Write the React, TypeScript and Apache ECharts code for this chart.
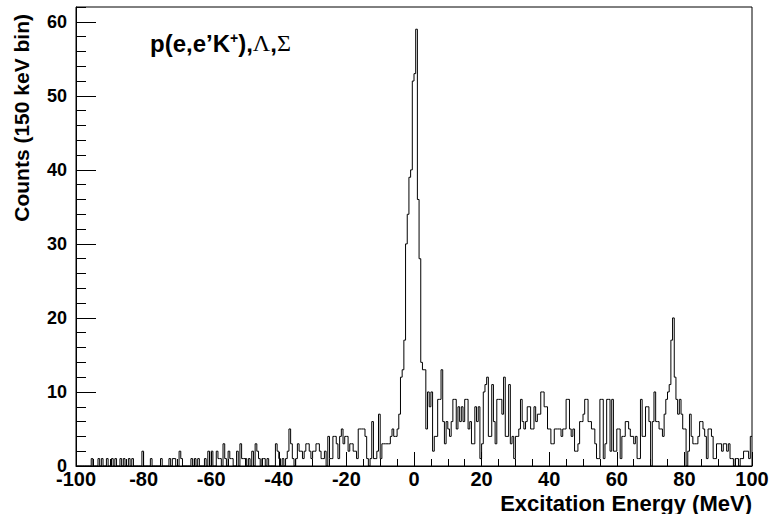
import React, { useEffect, useRef } from "react";
import * as echarts from "echarts";

// Histogram: 0.5 MeV bins from -100 to 100 MeV
const BIN_WIDTH = 0.5;
const X_START = -100;

const countsNeg100ToNeg50 = [
  0, 0, 0, 0, 0, 0, 0, 0, 0, 1, 0, 0, 0, 1, 0, 1, 0, 0, 1, 0,
  0, 1, 0, 1, 0, 0, 1, 0, 1, 0, 0, 1, 0, 1, 0, 0, 0, 0, 0, 2,
  0, 0, 0, 0, 1, 0, 0, 0, 0, 0, 1, 0, 0, 0, 0, 1, 0, 1, 1, 0,
  0, 2, 1, 0, 0, 0, 0, 0, 1, 0, 1, 0, 1, 0, 0, 0, 1, 0, 2, 0,
  2, 0, 0, 2, 1, 1, 0, 3, 1, 0, 2, 1, 1, 0, 0, 2, 0, 3, 1, 1,
];
const countsNeg50To0 = [
  1, 0, 1, 0, 2, 0, 3, 2, 1, 0, 1, 1, 0, 1, 0, 0, 0, 0, 3, 2,
  1, 0, 1, 0, 1, 2, 5, 3, 1, 0, 1, 3, 2, 2, 1, 2, 3, 3, 2, 1,
  2, 2, 3, 3, 2, 1, 1, 2, 0, 4, 1, 1, 4, 4, 3, 1, 4, 5, 3, 4,
  4, 2, 3, 3, 2, 2, 1, 5, 5, 5, 5, 4, 1, 0, 1, 6, 1, 1, 2, 7,
  1, 3, 3, 3, 3, 3, 4, 5, 4, 4, 5, 7, 12, 13, 17, 30, 34, 39, 40, 52,
];
const counts0To50 = [
  53, 59, 36, 28, 14, 13, 13, 5, 10, 8, 10, 2, 4, 4, 9, 9, 13, 6, 3, 6,
  5, 4, 6, 9, 9, 5, 8, 6, 8, 6, 9, 9, 5, 6, 3, 3, 8, 6, 8, 1,
  3, 10, 11, 12, 4, 4, 11, 6, 3, 9, 9, 9, 7, 12, 4, 4, 11, 3, 4, 1,
  4, 4, 5, 9, 6, 5, 6, 8, 8, 5, 5, 8, 6, 7, 7, 10, 10, 8, 8, 5,
  5, 3, 3, 5, 5, 5, 5, 4, 5, 5, 9, 9, 5, 4, 5, 2, 2, 3, 6, 6,
];
const counts50To100 = [
  7, 9, 9, 6, 6, 5, 5, 3, 1, 1, 9, 9, 1, 3, 9, 9, 2, 9, 2, 2,
  5, 5, 1, 4, 4, 6, 6, 5, 4, 4, 3, 4, 1, 1, 9, 4, 4, 8, 8, 6,
  0, 6, 10, 6, 6, 5, 5, 4, 7, 9, 10, 11, 17, 20, 12, 9, 7, 9, 7, 5,
  5, 0, 2, 7, 4, 3, 3, 3, 4, 6, 6, 5, 4, 1, 5, 5, 4, 1, 1, 3,
  3, 3, 2, 3, 3, 2, 3, 1, 1, 0, 1, 1, 0, 1, 1, 2, 2, 2, 1, 4,
];

const X_MIN = -100;
const X_MAX = 100;
const X_INTERVAL = 20;
const Y_MIN = 0;
const Y_MAX = 62;
const Y_INTERVAL = 10;

const SANS = '"Liberation Sans", Arial, Helvetica, sans-serif';
const SERIF = '"Liberation Serif", "Times New Roman", serif';

export default function App() {
  const ref = useRef<HTMLDivElement>(null);

  useEffect(() => {
    if (!ref.current) return;
    const chart = echarts.init(ref.current, null, { renderer: "svg" });
    const counts = [
      ...countsNeg100ToNeg50,
      ...countsNeg50To0,
      ...counts0To50,
      ...counts50To100,
    ];
    const data: number[][] = counts.map((c, i) => [X_START + i * BIN_WIDTH, c]);
    data.push([X_START + counts.length * BIN_WIDTH, counts[counts.length - 1]]);

    chart.setOption({
      animation: false,
      backgroundColor: "#fff",
      grid: {
        left: 76,
        right: 19,
        top: 7,
        bottom: 48,
        show: true,
        borderColor: "#000",
        borderWidth: 1,
        backgroundColor: "transparent",
        outerBoundsMode: "none",
      },
      xAxis: {
        type: "value",
        min: X_MIN,
        max: X_MAX,
        interval: X_INTERVAL,
        axisLine: { onZero: false, lineStyle: { color: "#000", width: 1 } },
        axisTick: { inside: true, length: 14, lineStyle: { color: "#000", width: 1 } },
        minorTick: { show: true, splitNumber: 4, length: 7, lineStyle: { color: "#000", width: 1 } },
        splitLine: { show: false },
        axisLabel: {
          color: "#000",
          fontFamily: SANS,
          fontWeight: "bold",
          fontSize: 20,
          margin: 3,
        },
      },
      yAxis: [
        {
          type: "value",
          min: Y_MIN,
          max: Y_MAX,
          interval: Y_INTERVAL,
          position: "left",
          axisLine: { show: true, onZero: false, lineStyle: { color: "#000", width: 1 } },
          axisTick: { show: true, inside: true, length: 20, lineStyle: { color: "#000", width: 1 } },
          splitLine: { show: false },
          axisLabel: {
            color: "#000",
            fontFamily: SANS,
            fontWeight: "bold",
            fontSize: 18,
            margin: 9,
            showMaxLabel: false,
          },
        },
        {
          type: "value",
          min: Y_MIN,
          max: Y_MAX,
          interval: 2,
          position: "left",
          offset: 0,
          axisLine: { show: false, onZero: false },
          axisTick: { show: true, inside: true, length: 10, lineStyle: { color: "#000", width: 1 } },
          splitLine: { show: false },
          axisLabel: { show: false },
        },
      ],
      series: [
        {
          type: "line",
          step: "end",
          data,
          yAxisIndex: 0,
          showSymbol: false,
          symbol: "none",
          silent: true,
          lineStyle: { color: "#000", width: 1 },
        },
      ],
      graphic: [
        {
          type: "text",
          x: 21,
          y: 14,
          rotation: Math.PI / 2,
          style: {
            text: "Counts (150 keV bin)",
            fill: "#000",
            font: `bold 21px ${SANS}`,
            align: "right",
            textAlign: "right",
            verticalAlign: "middle",
            textVerticalAlign: "middle",
          },
        },
        {
          type: "text",
          x: 752,
          y: 503,
          style: {
            text: "Excitation Energy (MeV)",
            fill: "#000",
            font: `bold 22px ${SANS}`,
            align: "right",
            textAlign: "right",
            verticalAlign: "middle",
            textVerticalAlign: "middle",
          },
        },
        {
          type: "text",
          x: 150,
          y: 43,
          style: {
            text: "{a|p(e,e\u2019K}{s|+}{a|),}{g|\u039B}{a|,}{g|\u03A3}",
            fill: "#000",
            align: "left",
            textAlign: "left",
            verticalAlign: "middle",
            textVerticalAlign: "middle",
            rich: {
              a: { fontSize: 24, fontWeight: "bold", fontFamily: SANS, fill: "#000", color: "#000" },
              s: { fontSize: 14, fontWeight: "bold", fontFamily: SANS, fill: "#000", color: "#000", verticalAlign: "top" },
              g: { fontSize: 24, fontFamily: SERIF, fill: "#000", color: "#000" },
            },
          },
        },
      ],
    });

    return () => chart.dispose();
  }, []);

  return (
    <div
      ref={ref}
      style={{ position: "fixed", left: 0, top: 0, width: 771, height: 514, background: "#fff" }}
    />
  );
}
